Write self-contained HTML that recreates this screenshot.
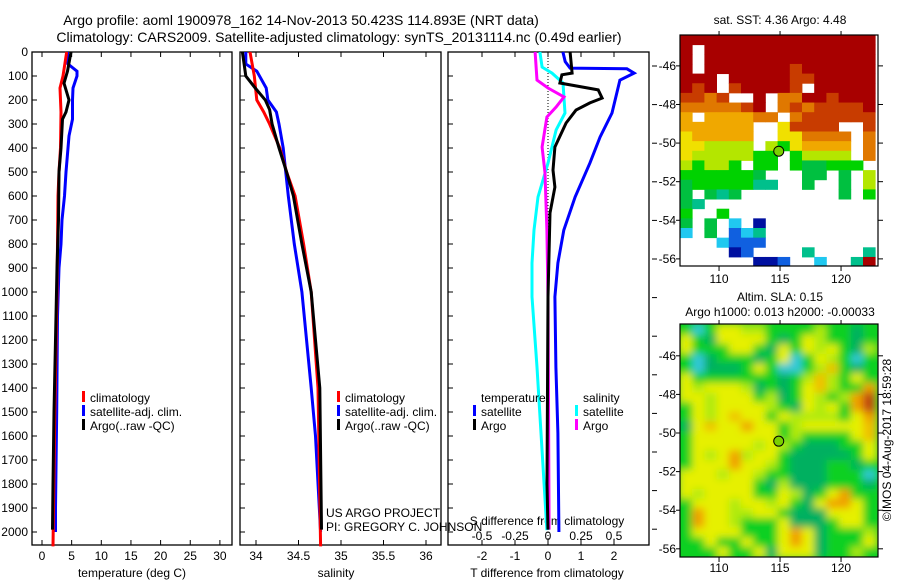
<!DOCTYPE html>
<html><head><meta charset="utf-8">
<style>
body{margin:0;background:#fff;}
svg{display:block;font-family:"Liberation Sans",sans-serif;}
text{fill:#000;font-size:12px;}
</style></head>
<body>
<svg id="fig" width="900" height="580" viewBox="0 0 900 580" xmlns="http://www.w3.org/2000/svg">
<defs>
<filter id="blur" x="0" y="0" width="1" height="1"><feGaussianBlur stdDeviation="4"/></filter>
<clipPath id="clipTop"><rect x="680" y="35" width="198" height="231"/></clipPath>
<clipPath id="clipBot"><rect x="680" y="324" width="198" height="233"/></clipPath>
</defs>
<text x="301" y="25" text-anchor="middle" style="font-size:14px">Argo profile: aoml 1900978_162 14-Nov-2013 50.423S 114.893E (NRT data)</text>
<text x="339" y="42" text-anchor="middle" style="font-size:14px">Climatology: CARS2009. Satellite-adjusted climatology: synTS_20131114.nc (0.49d earlier)</text>
<text x="780" y="24" text-anchor="middle">sat. SST: 4.36 Argo: 4.48</text>
<text x="780" y="301" text-anchor="middle">Altim. SLA: 0.15</text>
<text x="780" y="316" text-anchor="middle">Argo h1000: 0.013 h2000: -0.00033</text>
<text transform="translate(891,440) rotate(-90)" text-anchor="middle">©IMOS 04-Aug-2017 18:59:28</text>
<g id="g"></g>
</svg>
<script>
// ---- data ----
const depthTempClim=[0,100,150,250,400,500,600,1000,1500,2060];
const tempClim=[4.17,3.54,3.04,3.20,3.12,2.87,2.70,2.53,2.16,1.85];
const depthTempSat=[0,50,80,100,150,200,280,350,500,600,700,800,900,1100,1500,1900,2000];
const tempSat=[4.30,4.38,5.90,5.90,5.23,5.14,5.14,4.55,4.05,3.79,3.37,3.20,2.87,2.61,2.48,2.28,2.28];
const depthTempArgo=[0,80,130,200,250,280,400,500,700,900,1200,1500,1800,1990];
const tempArgo=[4.89,4.30,3.71,4.55,4.05,3.46,3.20,2.87,2.78,2.53,2.28,2.02,1.85,1.77];
const depthSalClim=[0,100,200,250,300,400,500,600,800,1000,1400,2060];
const salClim=[33.93,33.98,34.01,34.09,34.16,34.28,34.36,34.46,34.56,34.65,34.73,34.76];
const depthSalSat=[0,50,80,150,200,250,300,400,600,800,1000,1400,1600,2000];
const salSat=[33.88,33.88,34.01,34.12,34.14,34.24,34.27,34.32,34.38,34.45,34.54,34.65,34.70,34.76];
const depthSalArgo=[0,100,150,200,240,300,400,500,600,800,1000,1400,1990];
const salArgo=[33.84,33.88,33.99,34.11,34.16,34.19,34.27,34.36,34.44,34.54,34.65,34.75,34.77];
const depthDTSat=[0,40,67,70,88,117,254,354,463,604,742,879,1020,1313,1588,1992,2000];
const dTSat=[0.45,0.52,0.67,2.39,2.61,2.18,1.94,1.58,1.27,0.82,0.48,0.30,0.21,0.24,0.30,0.33,0.33];
const depthDTArgo=[0,88,95,129,158,192,212,242,296,396,492,563,671,1020,1800,1990];
const dTArgo=[0.67,0.73,0.42,0.36,1.52,1.64,1.27,0.85,0.55,0.21,0.15,0.21,0.06,0,-0.03,0];
const depthDSSat=[0,63,88,129,254,325,463,604,742,879,1020,1313,1588,1992];
const dSSat=[-0.061,-0.045,0.030,0.114,0.129,0.061,0,-0.076,-0.106,-0.121,-0.121,-0.083,-0.053,-0.008];
const depthDSArgo=[0,117,150,187,229,271,396,504,742,1020,1990];
const dSArgo=[-0.098,-0.083,0,0.121,0.061,-0.008,-0.045,-0.023,-0.008,0,0.008];
const depthTicks=[0,100,200,300,400,500,600,700,800,900,1000,1100,1200,1300,1400,1500,1600,1700,1800,1900,2000];
const tempTicks=[0,5,10,15,20,25,30];
const salTicks=[34,34.5,35,35.5,36];
const salTickLabels=["34","34.5","35","35.5","36"];
const dTTicks=[-2,-1,0,1,2];
const dSTicks=[-0.5,-0.25,0,0.25,0.5];
const dSTickLabels=["-0.5","-0.25","0","0.25","0.5"];
const lonTicks=[110,115,120];
const latTicks=[-46,-48,-50,-52,-54,-56];
const floatLon=114.893, floatLat=-50.423;
const sstRows=[
"RRRRRRRRRRRRRRRR","R.RRRRRRRRRRRRRR","R.RRRRRRRRRRRRRR","R.RRRRRRRrRRRRRR",
"RRR.RRRRRrrRRRRR","RrR.rRRRRr.RRRRR","rror..R.ooRRrRRR","ooooorR.ororrrrR",
"O.OOOOoo.orrrrrr","OOOOOO..yrrrr..r","yOOOOO..yyoooo.o","yyllll.lgyOOOO.o",
"ylllllgg.gllll.o","lgllg.gg.gGGggg.","ggggggG...GG.G.l","Ggggggtt..G..G.l",
"G.GtG........G.g","Gt..............","g..g............","G.G.c.n.........",
"c.G.bct.........","...cbbb.........","....nb....t....t","......nnb..c..tR"];
const slaRows=[
"gcgyyllgggglggdg","ygdyyyygdgylggdg","ygggyygdygylygdl","gcdgggdgycgylgcg",
"gcdddgygccglogdg","ygggggggdglolgyg","ylyyyldgdgyolggO","yylyyygldgylglOr",
"gylyyyylgdylygOr","gylyoyygyllllgyO","dyoyyOyyglyyyyyo","gyyyyyyyglggggyo",
"gyyyyylylgdddggy","gylyOlyygdddddgy","gyyyOyylgdddggdg","yyylyylggdddgggc",
"yyyyyygdldddgggd","ylyyyyggyldgyOgg","gyyylyylygdyOOyg","gOyyllyygdddyyyg",
"gOyylgggydddgyyg","gyyyygggyOydgggl","ggyggyggyOydgggy","gggyggydyyydgglg"];
const sstColors={R:"#a80000",r:"#c83c00",o:"#e07800",O:"#f0a800",y:"#f0e000",l:"#b4e600",g:"#00d200",G:"#00c040",t:"#00c08c",c:"#20c8f0",b:"#1060e0",n:"#0010a0"};
const slaColors={g:"#10d020",d:"#00b060",c:"#30c8d8",y:"#e6f000",l:"#b0ea10",o:"#f0c000",O:"#f0a000",r:"#c04010"};

// ---- scales ----
const Y0=52, Y1=545;
const yD=d=>Y0+0.24*d;
const xT=v=>42+5.93*v;
const xS=v=>256+85*(v-34);
const xDT=v=>548+33*v;
const xDS=v=>548+132*v;
const lonX=l=>680+(l-106.8)*12.2;
const latYTop=l=>35+(-44.4-l)*19.3;
const latYBot=l=>323+(-44.3-l)*19.3;

const NS="http://www.w3.org/2000/svg";
const G=document.getElementById('g');
function mk(tag,attrs,parent){const e=document.createElementNS(NS,tag);for(const k in attrs)e.setAttribute(k,attrs[k]);(parent||G).appendChild(e);return e;}
function txt(x,y,s,anchor,parent){const t=mk('text',{x:x,y:y,'text-anchor':anchor||'start'},parent);t.textContent=s;return t;}

const frames=[[32,232,'temperature-panel'],[240,441,'salinity-panel'],[448,649,'difference-panel']];
frames.forEach(f=>{
  const r=mk('rect',{x:f[0],y:Y0,width:f[1]-f[0],height:Y1-Y0,fill:'none',stroke:'#000','stroke-width':1.3});
  
  
  depthTicks.forEach(d=>{
    mk('line',{x1:f[0],x2:f[0]+5,y1:yD(d),y2:yD(d),stroke:'#000'});
  });
});
depthTicks.forEach(d=>{
  const t=txt(28,yD(d)+4,String(d),'end');
  
  
});
for(let i=0;i<13;i++){const yy=66+38.6*i;mk('line',{x1:652,x2:657,y1:yy,y2:yy,stroke:'#000'});}
function xticks(vals,labels,sx,ly,name,top){
  vals.forEach((v,i)=>{
    const x=sx(v);
    mk('line',{x1:x,x2:x,y1:Y1,y2:Y1-5,stroke:'#000'});
    if(top)mk('line',{x1:x,x2:x,y1:Y0,y2:Y0+5,stroke:'#000'});
    const t=txt(x,ly,labels[i],'middle');
    
    
  });
}
xticks(tempTicks,tempTicks.map(String),xT,560,'temperature-tick-label',true);
xticks(salTicks,salTickLabels,xS,560,'salinity-tick-label',true);
xticks(dTTicks,dTTicks.map(String),xDT,560,'t-difference-tick-label',true);
dSTicks.forEach((v,i)=>{const t=txt(xDS(v),540,dSTickLabels[i],'middle');
  
  });
let at;
at=txt(132,577,'temperature (deg C)','middle');


at=txt(336,577,'salinity','middle');


at=txt(547,577,'T difference from climatology','middle');


at=txt(547,525,'S difference from climatology','middle');


mk('line',{x1:xDT(0),x2:xDT(0),y1:Y0,y2:Y1,stroke:'#000','stroke-dasharray':'1,2'});

function series(ds,vs,sx,color,name){
  const pts=ds.map((d,i)=>sx(vs[i]).toFixed(1)+','+yD(d).toFixed(1)).join(' ');
  const p=mk('polyline',{points:pts,fill:'none',stroke:color,'stroke-width':3,'stroke-linejoin':'miter'});
  
  
}
series(depthTempSat,tempSat,xT,'#0000ff','temperature-satellite-line');
series(depthTempClim,tempClim,xT,'#ff0000','temperature-climatology-line');
series(depthTempArgo,tempArgo,xT,'#000000','temperature-argo-line');
series(depthSalSat,salSat,xS,'#0000ff','salinity-satellite-line');
series(depthSalClim,salClim,xS,'#ff0000','salinity-climatology-line');
series(depthSalArgo,salArgo,xS,'#000000','salinity-argo-line');
series(depthDTSat,dTSat,xDT,'#0000ff','t-difference-satellite-line');
series(depthDSSat,dSSat,xDS,'#00ffff','s-difference-satellite-line');
series(depthDSArgo,dSArgo,xDS,'#ff00ff','s-difference-argo-line');
series(depthDTArgo,dTArgo,xDT,'#000000','t-difference-argo-line');

function legend(x,y,color,label,name){
  const r=mk('rect',{x:x,y:y-11,width:3,height:11,fill:color});
  
  
  const t=txt(x+8,y,label);
  
  
}
legend(82,402,'#ff0000','climatology','legend-climatology');
legend(82,416,'#0000ff','satellite-adj. clim.','legend-satellite-adj');
legend(82,430,'#000000','Argo(..raw -QC)','legend-argo');
legend(337,402,'#ff0000','climatology','legend-sal-climatology');
legend(337,416,'#0000ff','satellite-adj. clim.','legend-sal-satellite-adj');
legend(337,430,'#000000','Argo(..raw -QC)','legend-sal-argo');
at=txt(481,402,'temperature');


at=txt(583,402,'salinity');


legend(473,416,'#0000ff','satellite','legend-t-satellite');
legend(473,430,'#000000','Argo','legend-t-argo');
legend(575,416,'#00ffff','satellite','legend-s-satellite');
legend(575,430,'#ff00ff','Argo','legend-s-argo');
at=txt(326,517,'US ARGO PROJECT');


at=txt(326,531,'PI: GREGORY C. JOHNSON');



function heat(rows,colors,latY,clip,name,blur){
  const g=mk('g',{'clip-path':'url(#'+clip+')'});
  
  
  const inner=mk('g',blur?{filter:'url(#blur)'}:{},g);
  if(blur){mk('rect',{x:670,y:latY(-44.3)-10,width:220,height:260,fill:colors.g},inner);}
  rows.forEach((row,ri)=>{
    const latTop=-44.4-0.5*ri;
    for(let ci=0;ci<row.length;ci++){
      const ch=row[ci]; if(!colors[ch])continue;
      const lon=106.8+ci;
      const x=lonX(lon),y=latY(latTop);
      const c=mk('rect',{x:x,y:y,width:12.6,height:10.1,fill:colors[ch]},inner);
      
    }
  });
}
function mapAxes(top,bottom,latY,lonLabelY,name){
  const r=mk('rect',{x:680,y:top,width:198,height:bottom-top,fill:'none',stroke:'#000','stroke-width':1.2});
  
  
  lonTicks.forEach(l=>{const x=lonX(l);
    mk('line',{x1:x,x2:x,y1:bottom,y2:bottom+5,stroke:'#000'});
    mk('line',{x1:x,x2:x,y1:top,y2:top-4,stroke:'#000'});
    const t=txt(x,lonLabelY,String(l),'middle');
    
    });
  latTicks.forEach(l=>{const y=latY(l);
    mk('line',{x1:878,x2:883,y1:y,y2:y,stroke:'#000'});
    mk('line',{x1:676,x2:680,y1:y,y2:y,stroke:'#000'});
    const t=txt(676,y+4,String(l),'end');
    
    });
  const c=mk('circle',{cx:lonX(floatLon),cy:latY(floatLat),r:5,fill:'#7ad000',stroke:'#000','stroke-width':1});
  
  
}
heat(sstRows,sstColors,latYTop,'clipTop','sst-map',false);
mapAxes(35,266,latYTop,283,'sst-map');
heat(slaRows,slaColors,latYBot,'clipBot','sla-map',true);
mapAxes(324,557,latYBot,572,'sla-map');
</script>
</body></html>
